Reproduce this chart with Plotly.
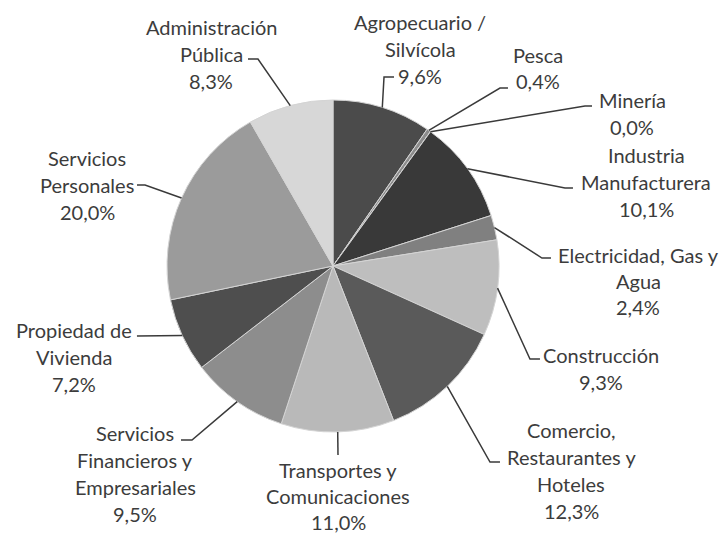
import math
import plotly.graph_objects as go

W, H = 719, 533

# ---- data ----
sectors = ["Agropecuario /\nSilvícola", "Pesca", "Minería", "Industria\nManufacturera",
           "Electricidad, Gas y\nAgua", "Construcción", "Comercio,\nRestaurantes y\nHoteles",
           "Transportes y\nComunicaciones", "Servicios\nFinancieros y\nEmpresariales",
           "Propiedad de\nVivienda", "Servicios\nPersonales", "Administración\nPública"]
values = [9.6, 0.4, 0.0, 10.1, 2.4, 9.3, 12.3, 11.0, 9.5, 7.2, 20.0, 8.3]
pct_labels = ["9,6%", "0,4%", "0,0%", "10,1%", "2,4%", "9,3%", "12,3%", "11,0%",
              "9,5%", "7,2%", "20,0%", "8,3%"]
colors = ["#4b4b4b", "#8c8c8c", "#8c8c8c", "#393939", "#808080", "#bebebe", "#5a5a5a",
          "#b9b9b9", "#8d8d8d", "#4e4e4e", "#9b9b9b", "#d7d7d7"]

# ---- layout (pixels) ----
CX, CY, R = 333, 266, 166
# label: centre x, first line y, line spacing
label_pos = [(420, 22, 27), (538, 55, 26), (632, 100, 27), (646, 155, 27),
             (638, 255, 26), (601, 355, 27), (571, 430, 27), (338, 470, 26),
             (135, 433, 27), (74, 330, 27), (87, 158, 27), (211, 27, 27)]
# leader: list of points after the slice edge point
leaders = [[(384, 77), (394, 77)], [(500, 88), (508, 88)], [(585, 106), (592, 106)],
           [(565, 188), (573, 188)], [(542, 258), (551, 258)], [(530, 359), (540, 359)],
           [(490, 462), (500, 462)], [(338, 455)], [(192, 440), (181, 440)],
           [(137, 336)], [(145, 185), (137, 185)], [(258, 59), (248, 59)]]

def px(x, y):
    return x / W, 1 - y / H

fig = go.Figure()
fig.add_trace(go.Pie(
    values=values, labels=[s.replace("\n", " ") for s in sectors],
    sort=False, direction="clockwise", rotation=0,
    marker=dict(colors=colors, line=dict(color="#d4d4d4", width=1)),
    textinfo="none", hoverinfo="skip", showlegend=False,
    domain=dict(x=[(CX - R) / W, (CX + R) / W], y=[(H - CY - R) / H, (H - CY + R) / H]),
))

total = sum(values)
cum = 0.0
shapes = []
annotations = []
tcolor = "#3c3c3c"
for i, v in enumerate(values):
    mid = (cum + v / 2) / total * 2 * math.pi
    cum += v
    ex, ey = CX + R * math.sin(mid), CY - R * math.cos(mid)
    pts = [(ex, ey)] + leaders[i]
    path = "M " + " L ".join("%.4f,%.4f" % px(x, y) for x, y in pts)
    shapes.append(dict(type="path", xref="paper", yref="paper", path=path,
                       line=dict(color="#3a3a3a", width=1.5)))
    lines = sectors[i].split("\n") + [pct_labels[i]]
    lx, ly, sp = label_pos[i]
    for k, t in enumerate(lines):
        ax, ay = px(lx, ly + k * sp)
        annotations.append(dict(x=ax, y=ay, xref="paper", yref="paper", text=t,
                                showarrow=False, xanchor="center", yanchor="middle",
                                font=dict(family="Lato", size=20, color=tcolor)))

fig.update_layout(width=W, height=H, margin=dict(l=0, r=0, t=0, b=0),
                  paper_bgcolor="white", plot_bgcolor="white",
                  shapes=shapes, annotations=annotations)
fig.write_html("out.html", config={"displayModeBar": False},
               post_script="document.body.style.margin='0';document.body.style.overflow='hidden';")
